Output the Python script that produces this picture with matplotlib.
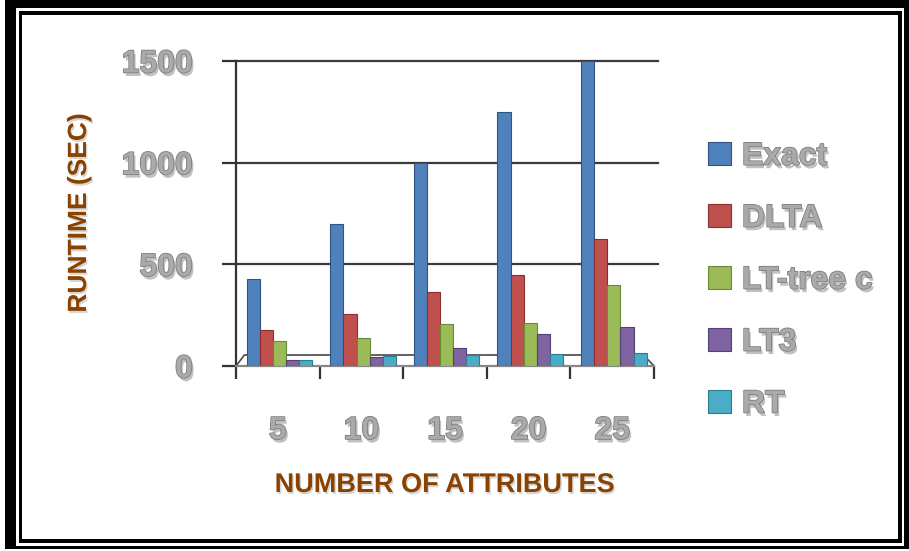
import matplotlib
matplotlib.use("Agg")
import matplotlib.pyplot as plt
import matplotlib.patheffects as pe
from matplotlib.patches import Rectangle
import numpy as np

attributes = ["5", "10", "15", "20", "25"]
methods = ["Exact", "DLTA", "LT-tree c", "LT3", "RT"]
exact = [430, 700, 1000, 1250, 1500]
dlta = [175, 255, 365, 450, 625]
lt_tree = [125, 140, 205, 210, 400]
lt3 = [30, 45, 90, 155, 190]
rt = [30, 50, 55, 60, 65]
series = [exact, dlta, lt_tree, lt3, rt]
yticks = [0, 500, 1000, 1500]

colors = ["#4F81BD", "#C0504D", "#9BBB59", "#8064A2", "#4BACC6"]
edges = ["#2f5582", "#8c2f2c", "#6a8a36", "#553f77", "#2a7d93"]

W, H = 909, 551
fig = plt.figure(figsize=(W / 100, H / 100), dpi=100)


def fx(x):
    return x / W


def fy(y):
    return 1 - y / H


# double frame around the picture
def frame(x0, y0, x1, y1, color):
    fig.add_artist(Rectangle((fx(x0), fy(y1)), fx(x1) - fx(x0), fy(y0) - fy(y1),
                             transform=fig.transFigure, facecolor=color,
                             edgecolor="none", zorder=-10))


frame(5, 0, 909, 549, "black")
frame(16, 8, 904, 546, "white")
frame(19, 11, 902, 543, "black")
frame(22, 15, 898, 539, "white")

ax = fig.add_axes([fx(236), fy(366), fx(654) - fx(236), fy(61) - fy(366)])
ax.set_facecolor("none")

emboss = [pe.SimplePatchShadow(offset=(1.5, -2.5), shadow_rgbFace="#666666", alpha=0.4),
          pe.Stroke(linewidth=1.1, foreground="#7a7a7a"), pe.Normal()]
label_fx = [pe.SimplePatchShadow(offset=(1, -1.5), shadow_rgbFace="#999999", alpha=0.4),
            pe.Normal()]

x = np.arange(len(attributes))
bw = 0.157
for i, (vals, name) in enumerate(zip(series, methods)):
    ax.bar(x + 0.02 + (i - 2) * bw, vals, bw, color=colors[i], edgecolor=edges[i],
           linewidth=0.8, label=name, zorder=3)

ax.set_xlim(-0.5, len(attributes) - 0.5)
ax.set_ylim(0, 1500)

# gridlines and axes
for v in yticks[1:]:
    ax.axhline(v, color="#3a3a3a", lw=1.6, zorder=1, xmax=1.01, clip_on=False)
for s in ["top", "right"]:
    ax.spines[s].set_visible(False)
ax.spines["left"].set_color("#333333")
ax.spines["left"].set_linewidth(1.6)
ax.spines["bottom"].set_color("#888888")
ax.spines["bottom"].set_linewidth(1.6)

# floor edge of the 3D look
ax.plot([0.0, 0.02, 0.975, 1.0], [0.0, 0.036, 0.036, 0.0], transform=ax.transAxes,
        color="#555555", lw=1.3, zorder=2, clip_on=False)

ax.set_yticks(yticks)
ax.set_yticklabels([str(v) for v in yticks])
ax.set_xticks(np.arange(-0.5, len(attributes), 1.0))
ax.set_xticklabels([])
ax.set_xticks(x, minor=True)
ax.set_xticklabels(attributes, minor=True)
ax.tick_params(axis="y", length=10, width=1.6, color="#333333", pad=21)
ax.tick_params(axis="x", which="major", length=9, width=1.6, color="#333333",
               direction="out")
ax.tick_params(axis="x", which="minor", length=0, pad=36)

for t in ax.get_yticklabels() + ax.get_xticklabels(minor=True):
    t.set_fontfamily("Liberation Sans")
    t.set_fontweight("bold")
    t.set_fontsize(23)
    t.set_color("#aaaaaa")
    t.set_path_effects(emboss)

brown = "#8a4200"
fig.text(fx(445), fy(485), "NUMBER OF ATTRIBUTES", ha="center", va="center",
         fontsize=19.5, fontweight="bold", family="Liberation Sans", color=brown,
         path_effects=label_fx)
fig.text(fx(79), fy(213), "RUNTIME (SEC)", ha="center", va="center", rotation=90,
         fontsize=19, fontweight="bold", family="Liberation Sans", color=brown,
         path_effects=label_fx)

leg = fig.legend(loc="upper left", bbox_to_anchor=(fx(679), fy(113)), frameon=False,
                 prop={"family": "Liberation Sans", "weight": "bold", "size": 23},
                 handlelength=0.72, handleheight=0.72, handletextpad=0.35,
                 labelspacing=1.0)
for t in leg.get_texts():
    t.set_color("#aaaaaa")
    t.set_path_effects(emboss)

fig.savefig("out.png", dpi=100)
